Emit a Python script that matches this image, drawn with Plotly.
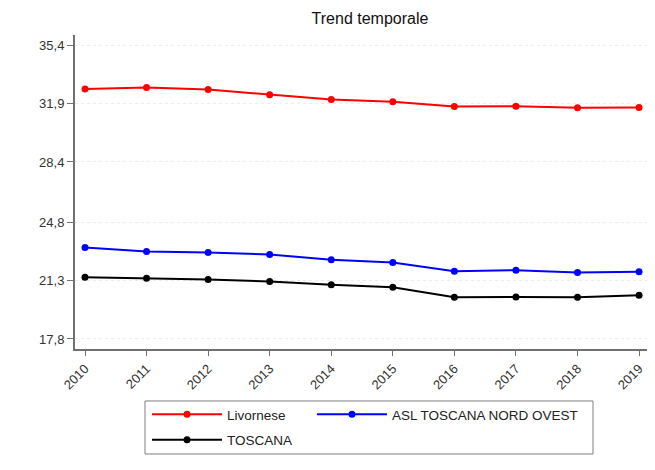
import plotly.graph_objects as go

years = [2010, 2011, 2012, 2013, 2014, 2015, 2016, 2017, 2018, 2019]
livornese = [32.76, 32.85, 32.73, 32.42, 32.14, 32.00, 31.72, 31.74, 31.64, 31.66]
asl_tno = [23.28, 23.04, 22.98, 22.86, 22.54, 22.38, 21.86, 21.92, 21.78, 21.82]
toscana = [21.50, 21.44, 21.36, 21.24, 21.04, 20.90, 20.30, 20.32, 20.30, 20.42]
ytick_vals = [17.8, 21.3, 24.8, 28.4, 31.9, 35.4]
ytick_text = ["17,8", "21,3", "24,8", "28,4", "31,9", "35,4"]

series = [
    ("Livornese", livornese, "#ff0000", "legend", "a"),
    ("ASL TOSCANA NORD OVEST", asl_tno, "#0000ff", "legend2", "b"),
    ("TOSCANA", toscana, "#000000", "legend", "c"),
]

fig = go.Figure()
for name, vals, col, leg, grp in series:
    fig.add_trace(go.Scatter(
        x=years, y=vals, name=name, mode="lines+markers",
        legend=leg, legendgroup=grp,
        line=dict(color=col, width=2),
        marker=dict(color=col, size=7),
        cliponaxis=False,
    ))

legend_font = dict(size=13.5, color="#222222")
axis_col = "#707070"
fig.update_layout(
    width=639, height=448,
    margin=dict(l=67, r=0, t=27, b=107),
    paper_bgcolor="white", plot_bgcolor="white",
    font=dict(family="Liberation Sans, Arial, sans-serif", size=13, color="#333333"),
    title=dict(text="Trend temporale", x=0.5665, xanchor="center", y=1 - 10 / 448, yanchor="middle",
               font=dict(size=16, color="#111111")),
    showlegend=True,
    legend=dict(
        orientation="v", x=0.1259, xanchor="left", y=-0.1592, yanchor="top",
        borderwidth=0, bgcolor="rgba(0,0,0,0)",
        traceorder="grouped", tracegroupgap=5, itemwidth=70,
        font=legend_font,
    ),
    legend2=dict(
        orientation="v", x=0.4143, xanchor="left", y=-0.1592, yanchor="top",
        borderwidth=0, bgcolor="rgba(0,0,0,0)", itemwidth=70,
        font=legend_font,
    ),
    shapes=[dict(
        type="rect", xref="paper", yref="paper",
        x0=0.1224, x1=0.9056, y0=-0.3344, y1=-0.1656,
        line=dict(color="#7f7f7f", width=1), fillcolor="rgba(0,0,0,0)", layer="below",
    )],
)
fig.update_xaxes(
    range=[2009.8376, 2019.129], tickvals=years, ticktext=[str(y) for y in years],
    tickangle=-45, showline=True, linecolor=axis_col, linewidth=2,
    ticks="outside", ticklen=5, tickcolor=axis_col, showgrid=False, zeroline=False,
    tickfont=dict(size=13, color="#333333"), ticklabeloverflow="allow", automargin=False,
)
fig.update_yaxes(
    range=[17.2, 36.0], tickvals=ytick_vals, ticktext=ytick_text,
    showline=True, linecolor=axis_col, linewidth=2,
    ticks="outside", ticklen=6, tickcolor=axis_col,
    showgrid=True, gridcolor="#ececec", griddash="dot", gridwidth=1, zeroline=False,
    tickfont=dict(size=13, color="#333333"),
)

fig.write_html("out.html")
